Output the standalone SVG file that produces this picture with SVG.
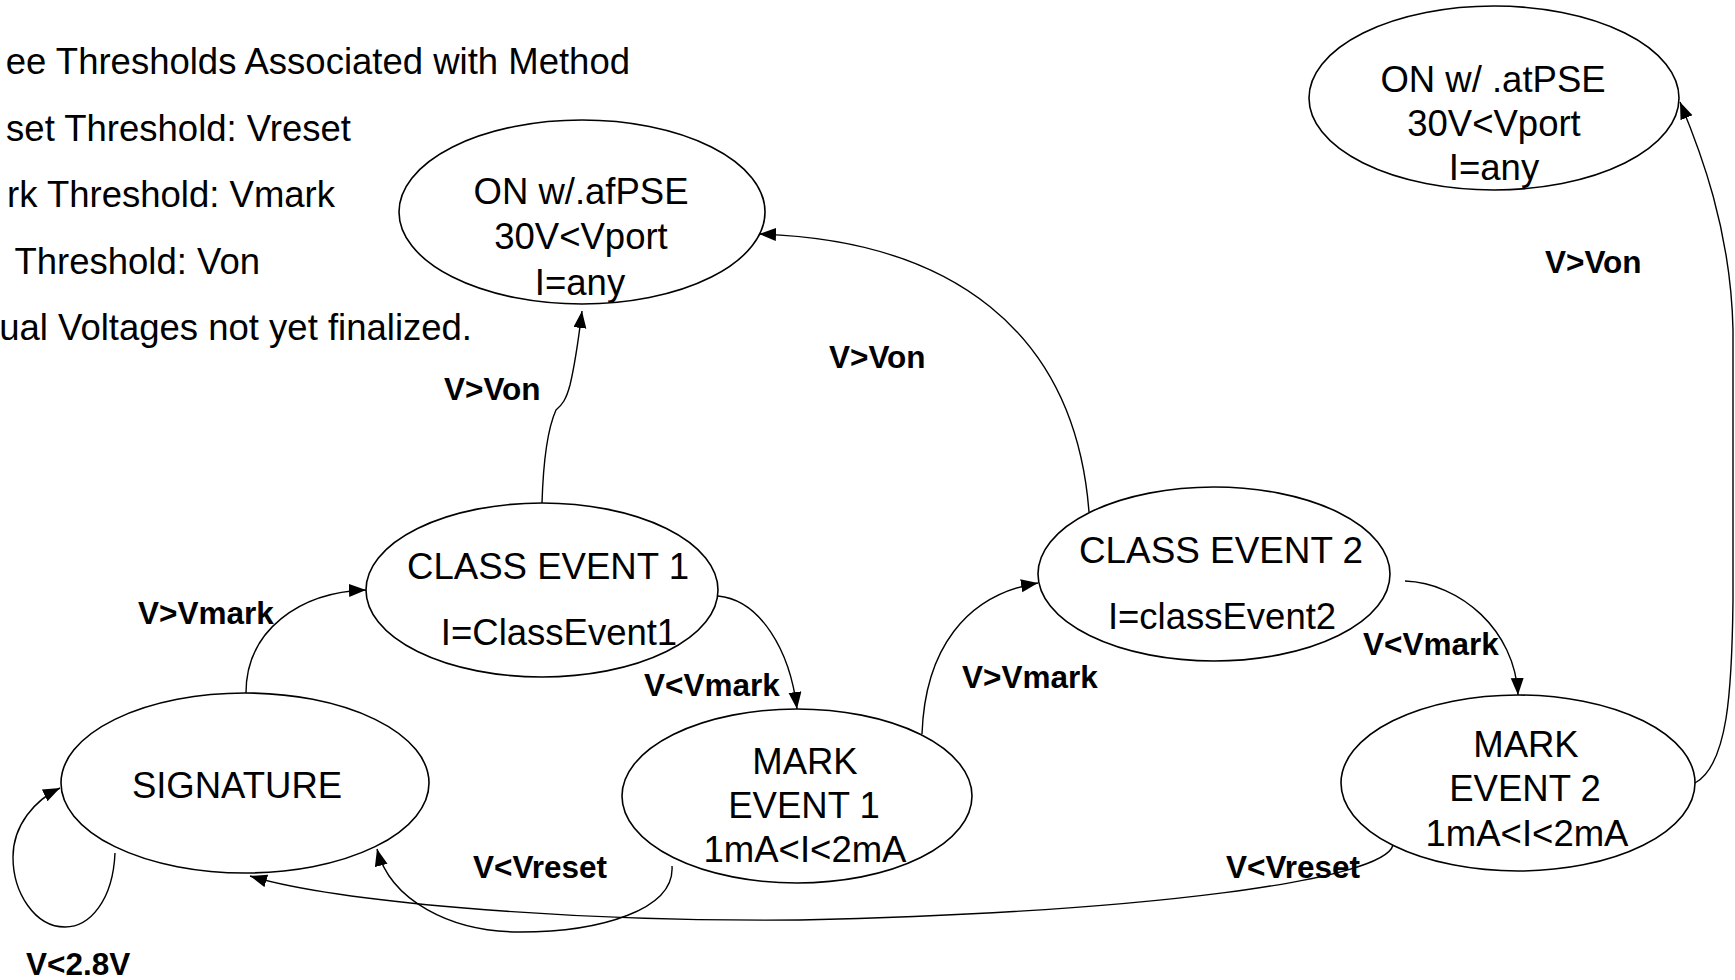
<svg xmlns="http://www.w3.org/2000/svg" width="1735" height="980" viewBox="0 0 1735 980">
<style>
text{font-family:"Liberation Sans",Arial,Helvetica,sans-serif;fill:#000}
.t{font-size:36.5px;text-anchor:end}
.n{font-size:36.5px;text-anchor:middle}
.b{font-size:31.5px;font-weight:bold}
.e{fill:#fff;stroke:#000;stroke-width:1.6}
.c{fill:none;stroke:#000;stroke-width:1.4;marker-end:url(#ah)}
</style>
<defs>
<marker id="ah" markerUnits="userSpaceOnUse" markerWidth="18" markerHeight="14" refX="17" refY="6.5" orient="auto">
<path d="M0,0 L17,6.5 L0,13 z" fill="#000"/>
</marker>
</defs>
<rect width="1735" height="980" fill="#fff"/>

<g id="notes">
<text class="t" x="630" y="74">ee Thresholds Associated with Method</text>
<text class="t" x="351" y="141">set Threshold: Vreset</text>
<text class="t" x="335" y="207">rk Threshold: Vmark</text>
<text class="t" x="260" y="274" xml:space="preserve"> Threshold: Von</text>
<text class="t" x="472" y="340">ual Voltages not yet finalized.</text>
</g>

<g id="connectors">
<path class="c" d="M115,853 C113,900 90,927 65,927 C35,927 13,893 13,857 C13,825 35,800 60,788"/>
<path class="c" d="M246,693 C246,630 300,592 366,590"/>
<path class="c" d="M542,503 C543,470 547,430 556,410 C562,405 566,400 570,385 C576,360 579,335 582,311"/>
<path class="c" d="M718,596 C760,600 790,650 797,709"/>
<path class="c" d="M672,866 C675,910 600,932 520,932 C450,932 390,900 377,849"/>
<path class="c" d="M1393,845 C1385,880 1150,912 800,920 C550,922 330,900 250,876"/>
<path class="c" d="M922,734 C925,650 965,595 1038,583"/>
<path class="c" d="M1089,512 C1075,330 950,240 759,234"/>
<path class="c" d="M1405,581 C1460,583 1515,630 1518,695"/>
<path class="c" d="M1695,783 C1728,765 1732,690 1733,600 L1733,330 C1731,230 1700,150 1680,102"/>
<text class="b" x="444" y="400">V&gt;Von</text>
<text class="b" x="829" y="368">V&gt;Von</text>
<text class="b" x="1545" y="273">V&gt;Von</text>
<text class="b" x="138" y="624">V&gt;Vmark</text>
<text class="b" x="644" y="696">V&lt;Vmark</text>
<text class="b" x="962" y="688">V&gt;Vmark</text>
<text class="b" x="1363" y="655">V&lt;Vmark</text>
<text class="b" x="473" y="878">V&lt;Vreset</text>
<text class="b" x="1226" y="878">V&lt;Vreset</text>
<text class="b" x="26" y="975">V&lt;2.8V</text>
</g>

<g id="on-afpse">
<ellipse class="e" cx="582" cy="212" rx="183" ry="92"/>
<text class="n" x="581" y="204">ON w/.afPSE</text>
<text class="n" x="581" y="249">30V&lt;Vport</text>
<text class="n" x="580" y="295">I=any</text>
</g>

<g id="on-atpse">
<ellipse class="e" cx="1494" cy="98" rx="185" ry="92"/>
<text class="n" x="1493" y="92">ON w/ .atPSE</text>
<text class="n" x="1494" y="136">30V&lt;Vport</text>
<text class="n" x="1494" y="180">I=any</text>
</g>

<g id="class-event-1">
<ellipse class="e" cx="542" cy="590" rx="176" ry="87"/>
<text class="n" x="548" y="579" textLength="282" lengthAdjust="spacingAndGlyphs">CLASS EVENT 1</text>
<text class="n" x="559" y="645">I=ClassEvent1</text>
</g>

<g id="class-event-2">
<ellipse class="e" cx="1214" cy="574" rx="176" ry="87"/>
<text class="n" x="1221" y="563" textLength="284" lengthAdjust="spacingAndGlyphs">CLASS EVENT 2</text>
<text class="n" x="1222" y="629">I=classEvent2</text>
</g>

<g id="signature">
<ellipse class="e" cx="245" cy="783" rx="184" ry="90"/>
<text class="n" x="237" y="798">SIGNATURE</text>
</g>

<g id="mark-event-1">
<ellipse class="e" cx="797" cy="796" rx="175" ry="87"/>
<text class="n" x="805" y="774">MARK</text>
<text class="n" x="804" y="818">EVENT 1</text>
<text class="n" x="805" y="862">1mA&lt;I&lt;2mA</text>
</g>

<g id="mark-event-2">
<ellipse class="e" cx="1518" cy="783" rx="177" ry="88"/>
<text class="n" x="1526" y="757">MARK</text>
<text class="n" x="1525" y="801">EVENT 2</text>
<text class="n" x="1527" y="846">1mA&lt;I&lt;2mA</text>
</g>
</svg>
